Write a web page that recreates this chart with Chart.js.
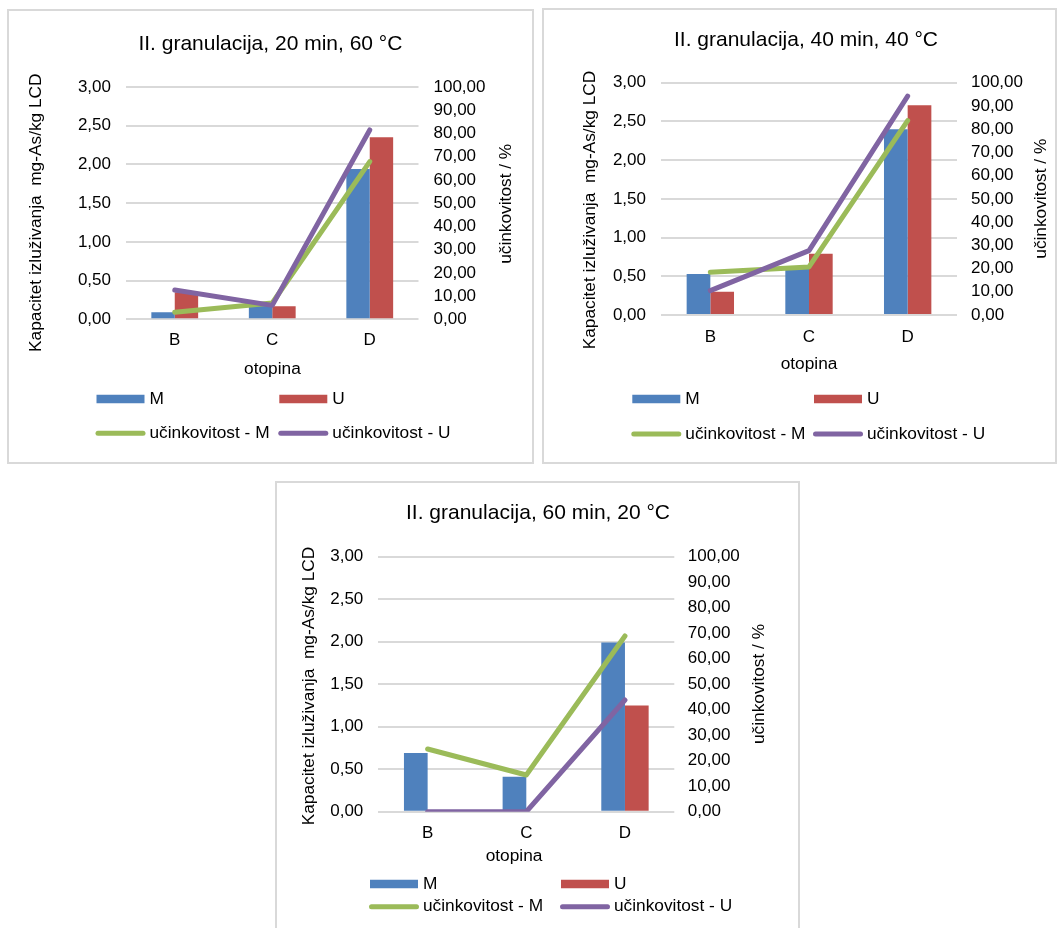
<!DOCTYPE html>
<html>
<head>
<meta charset="utf-8">
<script src="https://cdn.jsdelivr.net/npm/chart.js@4.4.1/dist/chart.umd.min.js"></script>
<style>
  html, body { margin: 0; padding: 0; background: #ffffff; }
  body { width: 1057px; height: 928px; position: relative; overflow: hidden; }
  canvas { position: absolute; }
  .frame { position: absolute; border: 2px solid #d9d9d9; box-sizing: border-box; pointer-events: none; }
</style>
</head>
<body>
<canvas id="c1"></canvas>
<canvas id="c2"></canvas>
<canvas id="c3"></canvas>
<div class="frame" id="f1"></div>
<div class="frame" id="f2"></div>
<div class="frame" id="f3"></div>
<script>
// ---------- data ----------
const categories = ['B', 'C', 'D'];
const kapacitetTickLabels = ['0,00', '0,50', '1,00', '1,50', '2,00', '2,50', '3,00'];
const ucinkovitostTickLabels = ['0,00', '10,00', '20,00', '30,00', '40,00', '50,00', '60,00', '70,00', '80,00', '90,00', '100,00'];
const seriesNames = ['M', 'U', 'učinkovitost - M', 'učinkovitost - U'];
const chartTitles = ['II. granulacija, 20 min, 60 °C', 'II. granulacija, 40 min, 40 °C', 'II. granulacija, 60 min, 20 °C'];
const leftAxisTitle = 'Kapacitet izluživanja  mg-As/kg LCD';
const rightAxisTitle = 'učinkovitost / %';
const xAxisTitle = 'otopina';

// 20 min, 60 °C
const kapacitetM_20 = [0.09, 0.18, 1.94];
const kapacitetU_20 = [0.35, 0.17, 2.35];
const ucinkovitostM_20 = [3.0, 7.0, 67.9];
const ucinkovitostU_20 = [12.6, 6.0, 81.5];
// 40 min, 40 °C
const kapacitetM_40 = [0.53, 0.61, 2.40];
const kapacitetU_40 = [0.30, 0.79, 2.71];
const ucinkovitostM_40 = [18.4, 20.7, 83.7];
const ucinkovitostU_40 = [10.5, 27.7, 94.2];
// 60 min, 20 °C
const kapacitetM_60 = [0.69, 0.41, 1.99];
const kapacitetU_60 = [0, 0, 1.25];
const ucinkovitostM_60 = [24.6, 14.4, 68.9];
const ucinkovitostU_60 = [0, 0, 43.8];

// ---------- styles ----------
const FONT = '"Liberation Sans", Arial, sans-serif';
const TEXT = '#000000';
const GRID = '#d9d9d9';
const BLUE = '#4F81BD', RED = '#C0504D', GREEN = '#9BBB59', PURPLE = '#8064A2';
const LINE_W = 5;

// page-coordinate layouts
const layouts = [
  { frame: [7, 9, 527, 455], plot: [126, 87, 418.5, 319.3], title: [270.4, 44.3],
    leftTitle: [36.2, 212.7], rightTitle: [506.2, 203.8], xTitle: [272.4, 369],
    legendX: [96.5, 279.3], legendY: [399, 433.3], xPad: 11, lPad: 15, rPad: 15 },
  { frame: [542, 8, 515, 456], plot: [661, 82.7, 957, 315], title: [806, 40],
    leftTitle: [590, 210], rightTitle: [1041.7, 198.7], xTitle: [809, 364.3],
    legendX: [632.3, 814], legendY: [399, 434], xPad: 12, lPad: 15, rPad: 14 },
  { frame: [275, 481, 525, 447], plot: [378.3, 556.7, 674.3, 811.7], title: [538, 513.3],
    leftTitle: [309.3, 686], rightTitle: [759.3, 684], xTitle: [514, 856.7],
    legendX: [370, 561], legendY: [884, 906.7], xPad: 11, lPad: 15, rPad: 13.5 }
];

function makeDecor(spec, titleText) {
  const ox = spec.frame[0], oy = spec.frame[1];
  return {
    id: 'decor',
    afterDraw(chart) {
      const ctx = chart.ctx;
      ctx.save();
      ctx.fillStyle = TEXT;
      ctx.textBaseline = 'middle';
      ctx.textAlign = 'center';
      ctx.font = '21px ' + FONT;
      ctx.fillText(titleText, spec.title[0] - ox, spec.title[1] - oy);
      ctx.font = '17.3px ' + FONT;
      ctx.fillText(xAxisTitle, spec.xTitle[0] - ox, spec.xTitle[1] - oy);
      const rot = (txt, p) => {
        ctx.save();
        ctx.translate(p[0] - ox, p[1] - oy);
        ctx.rotate(-Math.PI / 2);
        ctx.fillText(txt, 0, 0);
        ctx.restore();
      };
      rot(leftAxisTitle, spec.leftTitle);
      rot(rightAxisTitle, spec.rightTitle);
      // legend (2 x 2 grid)
      chart.data.datasets.forEach((ds, i) => {
        const col = i % 2, row = Math.floor(i / 2);
        const x = spec.legendX[col] - ox, y = spec.legendY[row] - oy;
        if (ds.type === 'line') {
          ctx.strokeStyle = ds.borderColor;
          ctx.lineWidth = LINE_W;
          ctx.lineCap = 'round';
          ctx.beginPath();
          ctx.moveTo(x + 1.5, y);
          ctx.lineTo(x + 46.5, y);
          ctx.stroke();
        } else {
          ctx.fillStyle = ds.backgroundColor;
          ctx.fillRect(x, y - 4.25, 48, 8.5);
        }
        ctx.fillStyle = TEXT;
        ctx.textAlign = 'left';
        ctx.fillText(ds.label, x + 53, y);
      });
      ctx.restore();
    }
  };
}

function build(idx, mVals, uVals, effM, effU) {
  const spec = layouts[idx];
  const [fx, fy, fw, fh] = spec.frame;
  const cv = document.getElementById('c' + (idx + 1));
  cv.width = fw; cv.height = fh;
  Object.assign(cv.style, { left: fx + 'px', top: fy + 'px', width: fw + 'px', height: fh + 'px' });
  const fr = document.getElementById('f' + (idx + 1));
  Object.assign(fr.style, { left: fx + 'px', top: fy + 'px', width: fw + 'px', height: (idx === 2 ? fh + 20 : fh) + 'px' });
  const [pl, pt, pr, pb] = spec.plot;
  const leftW = pl - fx, rightW = fx + fw - pr, bottomH = fy + fh - pb;
  const tickFont = { family: FONT, size: 17 };
  new Chart(cv, {
    data: {
      labels: categories,
      datasets: [
        { type: 'bar', label: seriesNames[0], data: mVals, backgroundColor: BLUE, borderWidth: 0,
          yAxisID: 'y', order: 3, categoryPercentage: 0.48, barPercentage: 1 },
        { type: 'bar', label: seriesNames[1], data: uVals, backgroundColor: RED, borderWidth: 0,
          yAxisID: 'y', order: 3, categoryPercentage: 0.48, barPercentage: 1 },
        { type: 'line', label: seriesNames[2], data: effM, borderColor: GREEN, backgroundColor: GREEN,
          borderWidth: LINE_W, pointRadius: 0, tension: 0, borderCapStyle: 'round', borderJoinStyle: 'round',
          yAxisID: 'y1', order: 2 },
        { type: 'line', label: seriesNames[3], data: effU, borderColor: PURPLE, backgroundColor: PURPLE,
          borderWidth: LINE_W, pointRadius: 0, tension: 0, borderCapStyle: 'round', borderJoinStyle: 'round',
          yAxisID: 'y1', order: 1 }
      ]
    },
    options: {
      responsive: false,
      animation: false,
      devicePixelRatio: 1,
      events: [],
      layout: { padding: { left: 0, top: pt - fy, right: 0, bottom: 0 }, autoPadding: false },
      plugins: { legend: { display: false }, title: { display: false }, tooltip: { enabled: false } },
      scales: {
        x: {
          type: 'category', offset: true,
          grid: { display: false, drawTicks: false }, border: { display: false },
          ticks: { color: TEXT, font: tickFont, padding: spec.xPad, maxRotation: 0, autoSkip: false },
          afterFit(s) { s.height = bottomH; }
        },
        y: {
          type: 'linear', position: 'left', min: 0, max: 3,
          border: { display: false },
          grid: { color: GRID, lineWidth: 2, drawTicks: false },
          ticks: { stepSize: 0.5, padding: spec.lPad, color: TEXT, font: tickFont, autoSkip: false,
                   callback: (v, i) => kapacitetTickLabels[i] },
          afterFit(s) { s.width = leftW; }
        },
        y1: {
          type: 'linear', position: 'right', min: 0, max: 100,
          border: { display: false },
          grid: { display: false, drawTicks: false },
          ticks: { stepSize: 10, padding: spec.rPad, color: TEXT, font: tickFont, autoSkip: false,
                   callback: (v, i) => ucinkovitostTickLabels[i] },
          afterFit(s) { s.width = rightW; }
        }
      }
    },
    plugins: [makeDecor(spec, chartTitles[idx])]
  });
}

build(0, kapacitetM_20, kapacitetU_20, ucinkovitostM_20, ucinkovitostU_20);
build(1, kapacitetM_40, kapacitetU_40, ucinkovitostM_40, ucinkovitostU_40);
build(2, kapacitetM_60, kapacitetU_60, ucinkovitostM_60, ucinkovitostU_60);
</script>
</body>
</html>
